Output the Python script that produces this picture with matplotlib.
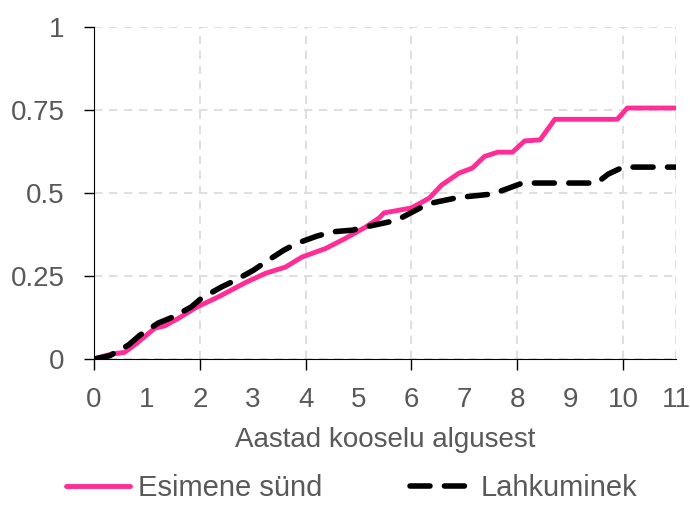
import matplotlib
matplotlib.use("Agg")
import matplotlib.pyplot as plt
from matplotlib.ticker import FixedLocator, FixedFormatter

plt.rcParams['font.family'] = ['Liberation Sans Narrow', 'Liberation Sans', 'DejaVu Sans']

# data
birth_x = [0, 0.33, 0.58, 0.83, 1.15, 1.34, 1.6, 1.95, 2.35, 2.86, 3.24, 3.62, 3.93,
           4.38, 4.76, 5.14, 5.39, 5.48, 6.0, 6.34, 6.57, 6.9, 7.15, 7.38, 7.63, 7.91,
           8.14, 8.43, 8.71, 9.89, 10.08, 11]
birth_y = [0, 0.015, 0.02, 0.05, 0.093, 0.1, 0.123, 0.157, 0.187, 0.23, 0.258, 0.277,
           0.307, 0.333, 0.364, 0.398, 0.425, 0.44, 0.455, 0.485, 0.524, 0.56, 0.575,
           0.61, 0.623, 0.623, 0.657, 0.66, 0.722, 0.722, 0.756, 0.756]

split_x = [0, 0.3, 0.65, 0.87, 1.21, 1.5, 1.84, 2.03, 2.41, 2.67, 3.02, 3.24, 3.59,
           3.83, 4.21, 4.5, 4.88, 5.2, 5.58, 5.83, 6.2, 6.39, 6.9, 7.1, 7.53, 7.76,
           8.1, 9.5, 9.72, 10.0, 11]
split_y = [0, 0.01, 0.042, 0.072, 0.108, 0.127, 0.157, 0.183, 0.217, 0.237, 0.268,
           0.292, 0.328, 0.348, 0.37, 0.383, 0.388, 0.4, 0.413, 0.427, 0.458, 0.47,
           0.487, 0.49, 0.497, 0.51, 0.53, 0.53, 0.557, 0.578, 0.578]

y_ticks = [0, 0.25, 0.5, 0.75, 1]
y_labels = ['0', '0.25', '0.5', '0.75', '1']
x_major = [0, 2, 4, 6, 8, 10]
x_minor = [1, 3, 5, 7, 9, 11]

gray = '#595959'
fs = 20

fig = plt.figure(figsize=(6.9, 5.05), dpi=100)
ax = fig.add_axes([94 / 690, 1 - 359 / 505, (676 - 94) / 690, 332 / 505])

ax.plot(birth_x, birth_y, color='#FF2D95', lw=3.5, solid_capstyle='round',
        label='Esimene sünd', zorder=3)
ax.plot(split_x, split_y, color='black', lw=4, dashes=(3.6, 2.6),
        dash_capstyle='round', label='Lahkuminek', zorder=4)

ax.set_xlim(0, 11)
ax.set_ylim(0, 1)

ax.xaxis.set_major_locator(FixedLocator(x_major))
ax.xaxis.set_minor_locator(FixedLocator(x_minor))
ax.xaxis.set_major_formatter(FixedFormatter([str(v) for v in x_major]))
ax.xaxis.set_minor_formatter(FixedFormatter([str(v) for v in x_minor]))
ax.set_yticks(y_ticks)
ax.set_yticklabels(y_labels)

ax.tick_params(axis='x', which='major', length=8, width=1, color='black',
               labelsize=fs, labelcolor=gray, pad=12)
ax.tick_params(axis='x', which='minor', length=0, labelsize=fs,
               labelcolor=gray, pad=20)
ax.tick_params(axis='y', length=7, width=1, color='black',
               labelsize=fs, labelcolor=gray, pad=14)

ax.grid(True, which='major', color='#d9d9d9', linestyle=(0, (5, 4)), lw=1.2)
ax.axvline(11, color='#d9d9d9', linestyle=(0, (5, 4)), lw=1.2, zorder=1)
ax.spines['top'].set_visible(False)
ax.spines['right'].set_visible(False)
ax.spines['left'].set_color('black')
ax.spines['bottom'].set_color('black')
ax.set_axisbelow(True)

ax.set_xlabel('Aastad kooselu algusest', fontsize=fs, color=gray, labelpad=10)

leg = fig.legend(loc='center', bbox_to_anchor=(0.51, 1 - 488 / 505), ncol=2,
                 frameon=False, fontsize=fs + 1, handlelength=2.2,
                 handletextpad=0.25, columnspacing=3.0)
for t in leg.get_texts():
    t.set_color(gray)

fig.savefig('out.png', dpi=100)
